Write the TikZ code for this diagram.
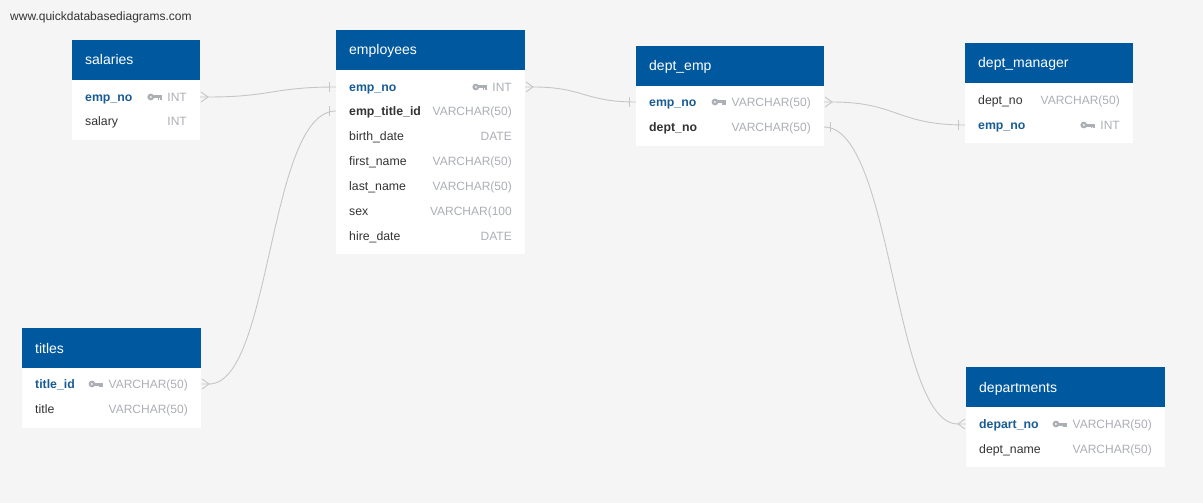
\documentclass[tikz,border=0pt]{standalone}
\usepackage{fontspec}
\setmainfont{Liberation Sans}
\definecolor{bg}{RGB}{244,245,244}
\definecolor{hdr}{RGB}{0,89,158}
\definecolor{keyblue}{RGB}{24,92,150}
\definecolor{txt}{RGB}{51,51,51}
\definecolor{typ}{RGB}{172,175,181}
\definecolor{conncol}{RGB}{198,198,198}
\tikzset{
  hdrbox/.style={fill=hdr, draw=none, anchor=north west, inner sep=0pt},
  bodybox/.style={fill=white, draw=none, anchor=north west, inner sep=0pt},
  hdrtext/.style={anchor=west, text=white, font=\fontsize{14}{16}\selectfont, inner sep=0pt, text height=10pt, text depth=0pt},
  fld/.style={anchor=west, text=txt, font=\fontsize{12.3}{14}\selectfont, inner sep=0pt, text height=9pt, text depth=0pt},
  pkfld/.style={fld, text=keyblue, font=\bfseries\fontsize{12.3}{14}\selectfont},
  typtext/.style={anchor=east, text=typ, font=\fontsize{12}{14}\selectfont, inner sep=0pt, text height=9pt, text depth=0pt},
  conn/.style={draw=conncol, line width=0.9pt},
  keyicon/.pic={
    \fill[typ] (0,0) circle (3.4pt);
    \fill[white] (0,0) circle (1pt);
    \fill[typ] (2.3,-1.5) rectangle (11,1.5);
    \fill[typ] (7,0) rectangle (8.6,3.2);
    \fill[typ] (9.4,0) rectangle (11,3.2);
  }
}
\begin{document}
\begin{tikzpicture}[x=1pt,y=-1pt]
\fill[bg] (0,0) rectangle (1203,503);
\useasboundingbox (0,0) rectangle (1203,503);

\node[anchor=west, text=txt, font=\fontsize{12}{14}\selectfont, inner sep=0pt, text height=8.5pt, text depth=0pt] (wm) at (10,16) {www.quickdatabasediagrams.com};

% ---------- salaries ----------
\node[bodybox, minimum width=128pt, minimum height=60pt] (salB) at (72,80) {};
\node[hdrbox, minimum width=128pt, minimum height=40pt] (salH) at (72,40) {};
\node[hdrtext] (salT) at (85,60) {salaries};
\node[pkfld] (sal1) at (85,97) {emp\_no};
\node[typtext] (sal1t) at (187,97) {INT};
\pic at ([xshift=-16.5pt]sal1t.west) {keyicon};
\node[fld] (sal2) at (85,121) {salary};
\node[typtext] (sal2t) at (187,121) {INT};
\coordinate (salR) at (200,97);

% ---------- employees ----------
\node[bodybox, minimum width=189pt, minimum height=184pt] (empB) at (336,70) {};
\node[hdrbox, minimum width=189pt, minimum height=40pt] (empH) at (336,30) {};
\node[hdrtext] (empT) at (349,50) {employees};
\node[pkfld] (emp1) at (349,87) {emp\_no};
\node[typtext] (emp1t) at (512,87) {INT};
\pic at ([xshift=-16.5pt]emp1t.west) {keyicon};
\node[fld, font=\bfseries\fontsize{12.3}{14}\selectfont] (emp2) at (349,111) {emp\_title\_id};
\node[typtext] (emp2t) at (512,111) {VARCHAR(50)};
\node[fld] (emp3) at (349,136) {birth\_date};
\node[typtext] (emp3t) at (512,136) {DATE};
\node[fld] (emp4) at (349,161) {first\_name};
\node[typtext] (emp4t) at (512,161) {VARCHAR(50)};
\node[fld] (emp5) at (349,186) {last\_name};
\node[typtext] (emp5t) at (512,186) {VARCHAR(50)};
\node[fld] (emp6) at (349,211) {sex};
\node[typtext] (emp6t) at (512,211) {VARCHAR(100};
\node[fld] (emp7) at (349,236) {hire\_date};
\node[typtext] (emp7t) at (512,236) {DATE};
\coordinate (empL1) at (336,87);
\coordinate (empL2) at (336,111);
\coordinate (empR1) at (525,87);

% ---------- dept_emp ----------
\node[bodybox, minimum width=188pt, minimum height=60pt] (deB) at (636,86) {};
\node[hdrbox, minimum width=188pt, minimum height=40pt] (deH) at (636,46) {};
\node[hdrtext] (deT) at (649,66) {dept\_emp};
\node[pkfld] (de1) at (649,102) {emp\_no};
\node[typtext] (de1t) at (811,102) {VARCHAR(50)};
\pic at ([xshift=-16.5pt]de1t.west) {keyicon};
\node[fld, font=\bfseries\fontsize{12.3}{14}\selectfont] (de2) at (649,127) {dept\_no};
\node[typtext] (de2t) at (811,127) {VARCHAR(50)};
\coordinate (deL1) at (636,102);
\coordinate (deR1) at (824,102);
\coordinate (deR2) at (824,127);

% ---------- dept_manager ----------
\node[bodybox, minimum width=168pt, minimum height=60pt] (dmB) at (965,83) {};
\node[hdrbox, minimum width=168pt, minimum height=40pt] (dmH) at (965,43) {};
\node[hdrtext] (dmT) at (978,63) {dept\_manager};
\node[fld] (dm1) at (978,100) {dept\_no};
\node[typtext] (dm1t) at (1120,100) {VARCHAR(50)};
\node[pkfld] (dm2) at (978,125) {emp\_no};
\node[typtext] (dm2t) at (1120,125) {INT};
\pic at ([xshift=-16.5pt]dm2t.west) {keyicon};
\coordinate (dmL2) at (965,125);

% ---------- titles ----------
\node[bodybox, minimum width=179pt, minimum height=60pt] (tiB) at (22,368) {};
\node[hdrbox, minimum width=179pt, minimum height=40pt] (tiH) at (22,328) {};
\node[hdrtext] (tiT) at (35,348) {titles};
\node[pkfld] (ti1) at (35,384) {title\_id};
\node[typtext] (ti1t) at (188,384) {VARCHAR(50)};
\pic at ([xshift=-16.5pt]ti1t.west) {keyicon};
\node[fld] (ti2) at (35,409) {title};
\node[typtext] (ti2t) at (188,409) {VARCHAR(50)};
\coordinate (tiR1) at (201,384);

% ---------- departments ----------
\node[bodybox, minimum width=199pt, minimum height=60pt] (dpB) at (966,407) {};
\node[hdrbox, minimum width=199pt, minimum height=40pt] (dpH) at (966,367) {};
\node[hdrtext] (dpT) at (979,387) {departments};
\node[pkfld] (dp1) at (979,424) {depart\_no};
\node[typtext] (dp1t) at (1152,424) {VARCHAR(50)};
\pic at ([xshift=-16.5pt]dp1t.west) {keyicon};
\node[fld] (dp2) at (979,449) {dept\_name};
\node[typtext] (dp2t) at (1152,449) {VARCHAR(50)};
\coordinate (dpL1) at (966,424);

% ---------- connectors ----------
% salaries.emp_no (many) -> employees.emp_no (one)
\draw[conn] ([shift={(1,-5)}]salR) -- ([xshift=8pt]salR) -- ([shift={(1,5)}]salR);
\draw[conn] (salR) -- ([xshift=8pt]salR) .. controls (272,97) and (272,87) .. (empL1);
\draw[conn] ([shift={(-7,-5)}]empL1) -- ([shift={(-7,5)}]empL1);

% titles.title_id (many) -> employees.emp_title_id (one)
\draw[conn] ([shift={(1,-5)}]tiR1) -- ([xshift=8pt]tiR1) -- ([shift={(1,5)}]tiR1);
\draw[conn] (tiR1) -- ([xshift=8pt]tiR1) .. controls (272,384) and (268,111) .. (empL2);
\draw[conn] ([shift={(-7,-5)}]empL2) -- ([shift={(-7,5)}]empL2);

% employees.emp_no (many) -> dept_emp.emp_no (one)
\draw[conn] ([shift={(1,-5)}]empR1) -- ([xshift=8pt]empR1) -- ([shift={(1,5)}]empR1);
\draw[conn] (empR1) -- ([xshift=8pt]empR1) .. controls (584,87) and (584,102) .. (deL1);
\draw[conn] ([shift={(-7,-5)}]deL1) -- ([shift={(-7,5)}]deL1);

% dept_emp.emp_no (many) -> dept_manager.emp_no (one)
\draw[conn] ([shift={(1,-5)}]deR1) -- ([xshift=8pt]deR1) -- ([shift={(1,5)}]deR1);
\draw[conn] (deR1) -- ([xshift=8pt]deR1) .. controls (897,102) and (897,125) .. (dmL2);
\draw[conn] ([shift={(-7,-5)}]dmL2) -- ([shift={(-7,5)}]dmL2);

% dept_emp.dept_no (one) -> departments.depart_no (many)
\draw[conn] ([shift={(6,-5)}]deR2) -- ([shift={(6,5)}]deR2);
\draw[conn] (deR2) .. controls (893,127) and (893,424) .. ([xshift=-8pt]dpL1) -- (dpL1);
\draw[conn] ([shift={(-1,-5)}]dpL1) -- ([xshift=-8pt]dpL1) -- ([shift={(-1,5)}]dpL1);
\end{tikzpicture}
\end{document}
